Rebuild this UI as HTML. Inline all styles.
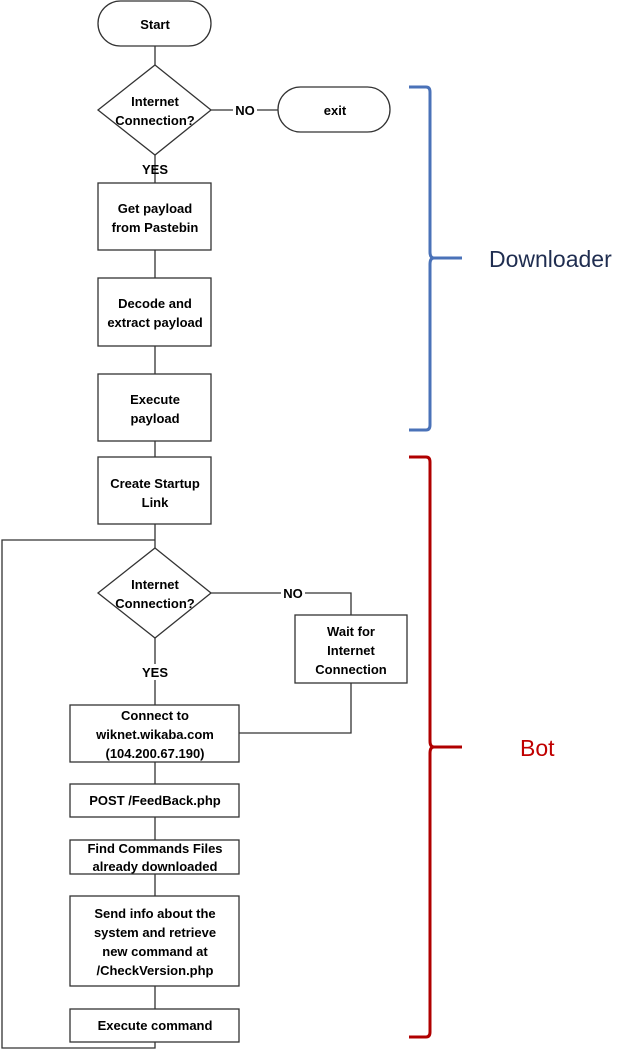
<!DOCTYPE html>
<html><head><style>body{margin:0;background:#fff}</style></head><body>
<svg width="635" height="1053" xmlns="http://www.w3.org/2000/svg" style="display:block">
<g fill="none" stroke="#333" stroke-width="1.3">
<line x1="155" y1="46" x2="155" y2="65"/>
<line x1="211" y1="110" x2="278" y2="110"/>
<line x1="155" y1="155" x2="155" y2="183"/>
<line x1="155" y1="250" x2="155" y2="278"/>
<line x1="155" y1="346" x2="155" y2="374"/>
<line x1="155" y1="441" x2="155" y2="457"/>
<line x1="155" y1="524" x2="155" y2="548"/>
<polyline points="155,540 2,540 2,1048 155,1048 155,1042"/>
<polyline points="211,593 351,593 351,615"/>
<polyline points="351,683 351,733 239,733"/>
<line x1="155" y1="638" x2="155" y2="705"/>
<line x1="155" y1="762" x2="155" y2="784"/>
<line x1="155" y1="817" x2="155" y2="840"/>
<line x1="155" y1="874" x2="155" y2="896"/>
<line x1="155" y1="986" x2="155" y2="1009"/>
</g>
<g fill="#fff" stroke="#333" stroke-width="1.3">
<rect x="98" y="1" width="113" height="45" rx="22.5"/>
<polygon points="155,65 211,110 155,155 98,110"/>
<rect x="278" y="87" width="112" height="45" rx="22.5"/>
<rect x="98" y="183" width="113" height="67"/>
<rect x="98" y="278" width="113" height="68"/>
<rect x="98" y="374" width="113" height="67"/>
<rect x="98" y="457" width="113" height="67"/>
<polygon points="155,548 211,593 155,638 98,593"/>
<rect x="295" y="615" width="112" height="68"/>
<rect x="70" y="705" width="169" height="57"/>
<rect x="70" y="784" width="169" height="33"/>
<rect x="70" y="840" width="169" height="34"/>
<rect x="70" y="896" width="169" height="90"/>
<rect x="70" y="1009" width="169" height="33"/>
</g>
<g font-family="Liberation Sans, sans-serif" font-weight="bold" font-size="13" text-anchor="middle" fill="#000">
<text x="155" y="29">Start</text>
<text x="155" y="106">Internet</text><text x="155" y="125">Connection?</text>
<rect x="233" y="102" width="24" height="16" fill="#fff"/>
<text x="245" y="115">NO</text>
<text x="335" y="115">exit</text>
<text x="155" y="174">YES</text>
<text x="155" y="213">Get payload</text><text x="155" y="232">from Pastebin</text>
<text x="155" y="308">Decode and</text><text x="155" y="327">extract payload</text>
<text x="155" y="404">Execute</text><text x="155" y="423">payload</text>
<text x="155" y="488">Create Startup</text><text x="155" y="507">Link</text>
<text x="155" y="589">Internet</text><text x="155" y="608">Connection?</text>
<rect x="281" y="585" width="24" height="16" fill="#fff"/>
<text x="293" y="598">NO</text>
<rect x="140" y="664" width="30" height="16" fill="#fff"/>
<text x="155" y="677">YES</text>
<text x="351" y="636">Wait for</text><text x="351" y="655">Internet</text><text x="351" y="674">Connection</text>
<text x="155" y="720">Connect to</text><text x="155" y="739">wiknet.wikaba.com</text><text x="155" y="758">(104.200.67.190)</text>
<text x="155" y="805">POST /FeedBack.php</text>
<text x="155" y="853">Find Commands Files</text><text x="155" y="871">already downloaded</text>
<text x="155" y="918">Send info about the</text><text x="155" y="937">system and retrieve</text><text x="155" y="956">new command at</text><text x="155" y="975">/CheckVersion.php</text>
<text x="155" y="1030">Execute command</text>
</g>
<path d="M409,87 L426,87 Q430,87 430,92 L430,252 Q430,258 434,258 L462,258 M434,258 Q430,258 430,264 L430,425 Q430,430 426,430 L409,430" fill="none" stroke="#4a72b8" stroke-width="3"/>
<path d="M409,457 L426,457 Q430,457 430,462 L430,741 Q430,747 434,747 L462,747 M434,747 Q430,747 430,753 L430,1032 Q430,1037 426,1037 L409,1037" fill="none" stroke="#b00000" stroke-width="3"/>
<text x="489" y="267" font-family="Liberation Sans, sans-serif" font-size="23" fill="#1f2d50">Downloader</text>
<text x="520" y="756" font-family="Liberation Sans, sans-serif" font-size="23" fill="#c00000">Bot</text>
</svg>
</body></html>
